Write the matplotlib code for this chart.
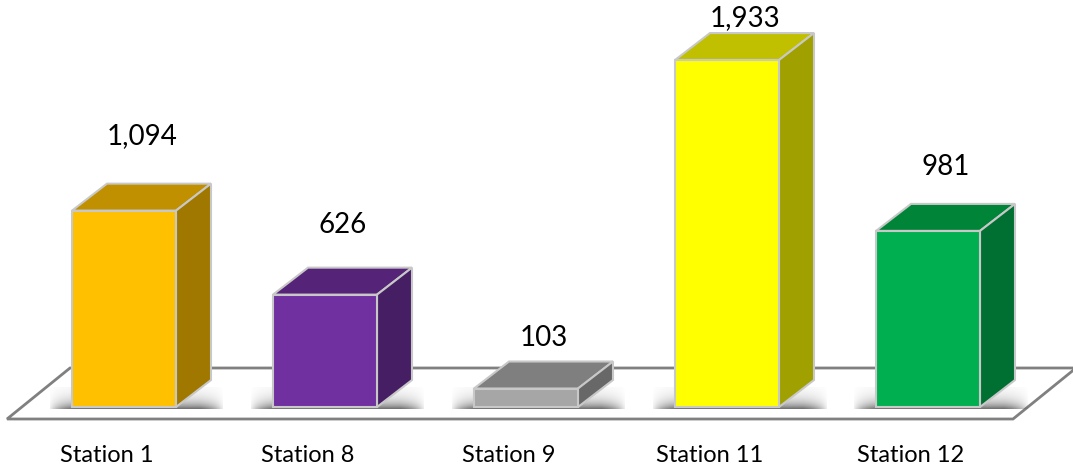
import matplotlib
matplotlib.use("Agg")
import matplotlib.pyplot as plt
from matplotlib.patches import Polygon
import numpy as np

# data
stations = ["Station 1", "Station 8", "Station 9", "Station 11", "Station 12"]
counts = [1094, 626, 103, 1933, 981]
count_labels = ["1,094", "626", "103", "1,933", "981"]

# face colours: front, top, side
front_cols = ["#FFC000", "#7030A0", "#A6A6A6", "#FFFF00", "#00B050"]
top_cols = ["#C09000", "#552479", "#7F7F7F", "#C0C000", "#008538"]
side_cols = ["#A07800", "#461E63", "#686868", "#A0A000", "#006F32"]

# gap (value units) between back-top of bar and its label
label_gap = [265, 235, 130, 85, 205]

px_per_unit = 0.1795     # vertical scale, pixels per count
px_per_cat = 201.0       # horizontal spacing in pixels
W, H = 1073, 472
base_px, first_px = 407, 124

fig = plt.figure(figsize=(W / 100, H / 100), dpi=100)
ax = fig.add_axes([0, 0, 1, 1])
ax.set_xlim(-first_px / px_per_cat, (W - first_px) / px_per_cat)
ax.set_ylim(-(H - base_px) / px_per_unit, base_px / px_per_unit)
ax.axis("off")
ax.set_autoscale_on(False)

bw = 104 / px_per_cat            # bar width
dx = 35 / px_per_cat             # depth offset x
dy = 27 / px_per_unit            # depth offset y
edge = "#C8C8C8"

# floor
f_front = -12 / px_per_unit
f_back = 39 / px_per_unit
fl, fr = -0.582, 4.423
fdx = 63 / px_per_cat
floor = Polygon([(fl, f_front), (fr, f_front), (fr + fdx, f_back), (fl + fdx, f_back)],
                closed=True, facecolor="white", edgecolor="#808080", lw=2, zorder=1)
ax.add_patch(floor)

x = np.arange(len(stations))

# soft shadows under the bars (blurred grey patch)
gx = np.linspace(-1, 1, 120)
gy = np.linspace(0, 1, 30)
GX, GY = np.meshgrid(gx, gy)
a = np.clip(1.15 - np.abs(GX) ** 6, 0, 1) * np.exp(-3.0 * GY)
rgba = np.zeros(a.shape + (4,))
rgba[..., :3] = 0.25
rgba[..., 3] = a * 0.75
for xi in x:
    ax.imshow(rgba, extent=(xi - bw / 2 - 22 / px_per_cat, xi + bw / 2 + dx + 12 / px_per_cat,
                            -2 / px_per_unit, 20 / px_per_unit),
              origin="lower", aspect="auto", interpolation="bilinear", zorder=2)

# front faces
ax.bar(x, counts, width=bw, color=front_cols, edgecolor=edge, linewidth=1.5, zorder=4)

for xi, v, tc, sc in zip(x, counts, top_cols, side_cols):
    l, r = xi - bw / 2, xi + bw / 2
    top = Polygon([(l, v), (r, v), (r + dx, v + dy), (l + dx, v + dy)],
                  closed=True, facecolor=tc, edgecolor=edge, lw=1.5, zorder=3)
    side = Polygon([(r, 0), (r + dx, dy), (r + dx, v + dy), (r, v)],
                   closed=True, facecolor=sc, edgecolor=edge, lw=1.5, zorder=3)
    ax.add_patch(top)
    ax.add_patch(side)

font = "Lato"
for xi, v, lab, g in zip(x, counts, count_labels, label_gap):
    ax.text(xi + 18 / px_per_cat, v + dy + g, lab, ha="center", va="center",
            fontsize=20, family=font, color="black")

for xi, s in zip(x, stations):
    ax.text(xi - 17 / px_per_cat, -48 / px_per_unit, s, ha="center", va="center",
            fontsize=17, family=font, color="black")

fig.savefig("out.png", dpi=100, facecolor="white")
